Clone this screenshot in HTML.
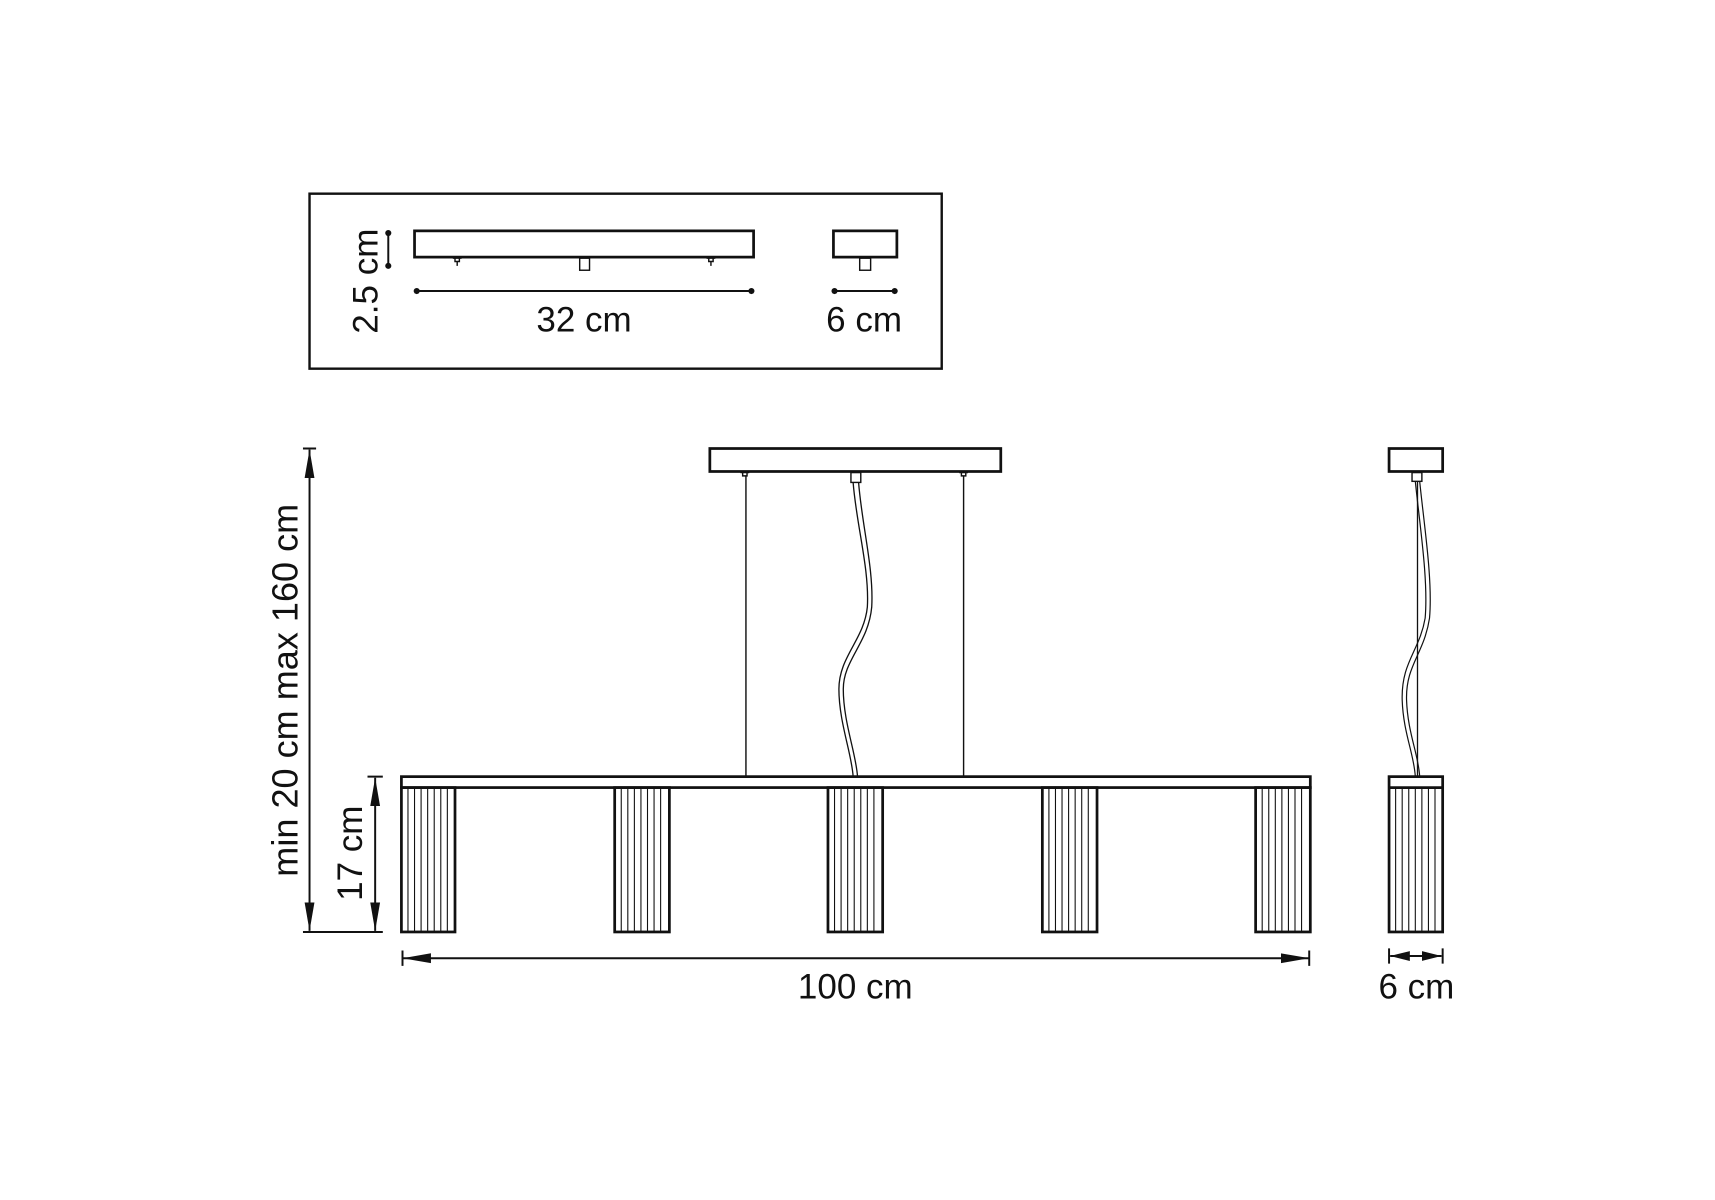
<!DOCTYPE html>
<html><head><meta charset="utf-8"><style>
html,body{margin:0;padding:0;background:#fff;}
svg{display:block;}
text{font-family:"Liberation Sans","DejaVu Sans",sans-serif;fill:#111;}
</style></head><body>
<svg width="1715" height="1200" viewBox="0 0 1568 1097" xmlns="http://www.w3.org/2000/svg">
<defs>
<marker id="ar" viewBox="0 0 26 10" refX="26" refY="5" markerWidth="26" markerHeight="10" markerUnits="userSpaceOnUse" orient="auto-start-reverse">
<path d="M0,0.5 L26,5 L0,9.5 Z" fill="#111"/></marker>
<marker id="ar2" viewBox="0 0 18 10" refX="18" refY="5" markerWidth="18" markerHeight="10" markerUnits="userSpaceOnUse" orient="auto-start-reverse">
<path d="M0,0.5 L18,5 L0,9.5 Z" fill="#111"/></marker>
</defs>
<rect width="1568" height="1097" fill="#fff"/>
<g stroke="#111" fill="none">
<!-- inset box -->
<rect x="283" y="177" width="578" height="160" stroke-width="2.2"/>
<rect x="379" y="211" width="310" height="24" stroke-width="2.5"/>
<g stroke-width="1.3">
<path d="M414,236 h8 M416,236 v3 h4 v-3 M418,239 v4"/>
<rect x="530" y="236" width="9" height="11"/>
<path d="M646,236 h8 M648,236 v3 h4 v-3 M650,239 v4"/>
</g>
<path d="M355,213 V243" stroke-width="1.8"/>
<path d="M381,266 H687" stroke-width="1.8"/>
<path d="M763,266 H818" stroke-width="1.8"/>
<rect x="762" y="211" width="58" height="24" stroke-width="2.5"/>
<rect x="786" y="236" width="10" height="11" stroke-width="1.3"/>
</g>
<g fill="#111">
<circle cx="355" cy="213" r="2.8"/><circle cx="355" cy="243" r="2.8"/>
<circle cx="381" cy="266" r="2.8"/><circle cx="687" cy="266" r="2.8"/>
<circle cx="763" cy="266" r="2.8"/><circle cx="818" cy="266" r="2.8"/>
</g>
<text x="534" y="303" font-size="32" text-anchor="middle">32 cm</text>
<text x="790" y="303" font-size="32" text-anchor="middle">6 cm</text>
<text transform="translate(345,257) rotate(-90)" font-size="32" text-anchor="middle">2.5 cm</text>

<!-- main drawing -->
<g stroke="#111" fill="none">
<rect x="649" y="410" width="266" height="21" stroke-width="2.5"/>
<g stroke-width="1.3">
<path d="M677,432 h8 M679,432 v3 h4 v-3"/>
<path d="M877,432 h8 M879,432 v3 h4 v-3"/>
<rect x="778" y="432" width="9" height="9"/>
</g>
<path d="M682,435 V710 M881,435 V710" stroke-width="1.3"/>
<path d="M780,441 C783,480 795,520 793,555 C790,585 767,600 767,630 C767,660 779,690 780,710" stroke-width="1.2"/>
<path d="M785,441 C788,480 799,520 797,555 C794,588 771,603 771,630 C771,660 783,690 784,710" stroke-width="1.2"/>
<rect x="367" y="710" width="831" height="10" stroke-width="2.5"/>
<g stroke-width="2.5">
<rect x="367" y="720" width="49" height="132"/>
<rect x="562" y="720" width="50" height="132"/>
<rect x="757" y="720" width="50" height="132"/>
<rect x="953" y="720" width="50" height="132"/>
<rect x="1148" y="720" width="50" height="132"/>
</g>
<g stroke-width="1">
<path d="M373,720V852M379,720V852M385,720V852M391,720V852M397,720V852M403,720V852M409,720V852"/>
<path d="M568,720V852M574,720V852M580,720V852M586,720V852M592,720V852M598,720V852M604,720V852"/>
<path d="M763,720V852M769,720V852M775,720V852M781,720V852M787,720V852M793,720V852M799,720V852"/>
<path d="M959,720V852M965,720V852M971,720V852M977,720V852M983,720V852M989,720V852M995,720V852"/>
<path d="M1154,720V852M1160,720V852M1166,720V852M1172,720V852M1178,720V852M1184,720V852M1190,720V852"/>
</g>
<!-- right side view -->
<rect x="1270" y="410" width="49" height="21" stroke-width="2.5"/>
<rect x="1291" y="432" width="9" height="8" stroke-width="1.3"/>
<path d="M1296,440 V710" stroke-width="1.2"/>
<path d="M1294,440 C1298,480 1306,530 1303,565 C1298,595 1281,605 1282,640 C1283,670 1293,690 1294,710" stroke-width="1.1"/>
<path d="M1298,440 C1302,480 1310,530 1307,565 C1302,598 1285,608 1286,640 C1287,670 1297,690 1298,710" stroke-width="1.1"/>
<rect x="1270" y="710" width="49" height="142" stroke-width="2.5"/>
<path d="M1270,720 H1319" stroke-width="2.5"/>
<path d="M1276,720V852M1282,720V852M1288,720V852M1294,720V852M1300,720V852M1306,720V852M1312,720V852" stroke-width="1"/>

<!-- dimensions -->
<path d="M277,410 H289 M277,852 H350 M336,710 H350" stroke-width="1.8"/>
<path d="M283,411 V851" stroke-width="1.8" marker-start="url(#ar)" marker-end="url(#ar)"/>
<path d="M343,711 V851" stroke-width="1.8" marker-start="url(#ar)" marker-end="url(#ar)"/>
<path d="M368,869 V883 M1197,869 V883" stroke-width="1.8"/>
<path d="M368,876 H1197" stroke-width="1.8" marker-start="url(#ar)" marker-end="url(#ar)"/>
<path d="M1270,867 V881 M1319,867 V881" stroke-width="1.8"/>
<path d="M1271,874 H1318" stroke-width="1.8" marker-start="url(#ar2)" marker-end="url(#ar2)"/>
</g>
<text transform="translate(272,631) rotate(-90)" font-size="33" text-anchor="middle">min 20 cm max 160 cm</text>
<text transform="translate(331,780) rotate(-90)" font-size="32" text-anchor="middle">17 cm</text>
<text x="782" y="913" font-size="32" text-anchor="middle">100 cm</text>
<text x="1295" y="913" font-size="32" text-anchor="middle">6 cm</text>
</svg>
</body></html>
